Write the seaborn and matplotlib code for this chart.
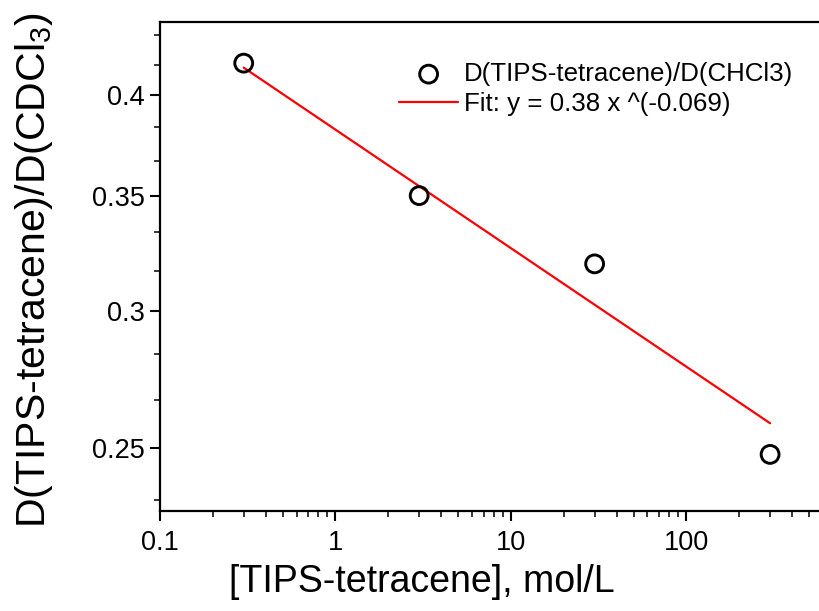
import numpy as np
import pandas as pd
import matplotlib
matplotlib.use("Agg")
import matplotlib.pyplot as plt
import seaborn as sns
from matplotlib.ticker import FixedLocator, NullFormatter, LogLocator

conc = [0.3, 3, 30, 300]
ratio = [0.4175, 0.35, 0.3196, 0.248]
fit_x = [0.3, 300]
fit_y = [0.415, 0.2585]
y_ticks = [0.25, 0.3, 0.35, 0.4]
y_minor = [0.2333, 0.2667, 0.2833, 0.3167, 0.3333, 0.3667, 0.3833, 0.4167, 0.4333]
x_ticks = [0.1, 1, 10, 100]
x_labels = ["0.1", "1", "10", "100"]

sns.set_style("ticks")
plt.rcParams['font.family'] = ['Liberation Sans', 'DejaVu Sans']
plt.rcParams['mathtext.fontset'] = 'custom'
plt.rcParams['mathtext.rm'] = 'Liberation Sans'
plt.rcParams['mathtext.it'] = 'Liberation Sans:italic'
plt.rcParams['mathtext.default'] = 'regular'
plt.rcParams['text.color'] = 'black'
plt.rcParams['axes.labelcolor'] = 'black'

fig = plt.figure(figsize=(8.19, 6.11), dpi=100)
ax = fig.add_axes([160/819, 100/611, 1 - 160/819, (511-22)/611])

df_pts = pd.DataFrame({"x": conc, "y": ratio})
df_fit = pd.DataFrame({"x": fit_x, "y": fit_y})

sns.lineplot(data=df_fit, x="x", y="y", ax=ax, color="#ff0000", lw=1.6,
             label="Fit: y = 0.38 x ^(-0.069)")
sns.scatterplot(data=df_pts, x="x", y="y", ax=ax, marker="o", s=165,
                facecolor="none", edgecolor="black", linewidth=2.1,
                label="D(TIPS-tetracene)/D(CHCl3)", zorder=3)

ax.set_xscale("log")
ax.set_yscale("log")
ax.set_xlim(0.1, 570)
ax.set_ylim(0.23, 0.441)

ax.xaxis.set_major_locator(FixedLocator(x_ticks))
ax.set_xticklabels(x_labels)
ax.xaxis.set_minor_locator(LogLocator(base=10, subs=np.arange(2, 10)))
ax.xaxis.set_minor_formatter(NullFormatter())
ax.yaxis.set_major_locator(FixedLocator(y_ticks))
ax.set_yticklabels([f"{v:g}" for v in y_ticks])
ax.yaxis.set_minor_locator(FixedLocator(y_minor))
ax.yaxis.set_minor_formatter(NullFormatter())

ax.tick_params(which="major", direction="out", length=7, width=1.5, labelsize=19.5,
               colors="black")
ax.tick_params(which="minor", direction="out", length=4, width=1.3)
ax.tick_params(axis="x", pad=7)
ax.tick_params(axis="y", pad=4)
for s in ["left", "bottom", "top"]:
    ax.spines[s].set_linewidth(1.6)
    ax.spines[s].set_color("black")
ax.spines["right"].set_visible(False)

ax.set_xlabel("[TIPS-tetracene], mol/L", fontsize=27, va="top")
ax.xaxis.set_label_coords((422 - 160) / 659, -0.108)
ax.set_ylabel("D(TIPS-tetracene)/D(CDCl$_3$)", fontsize=29.5, va="center")
ax.yaxis.set_label_coords((34 - 160) / 659, (611 - 270 - 100) / 489)

h, l = ax.get_legend_handles_labels()
order = [1, 0]
leg = ax.legend([h[i] for i in order], [l[i] for i in order], loc="upper left",
                bbox_to_anchor=(386/819, 1 - 49/611), bbox_transform=fig.transFigure,
                frameon=False, fontsize=18.6, handlelength=2.3, handletextpad=0.2,
                labelspacing=0.25, borderpad=0)

fig.savefig("out.png", dpi=100)
